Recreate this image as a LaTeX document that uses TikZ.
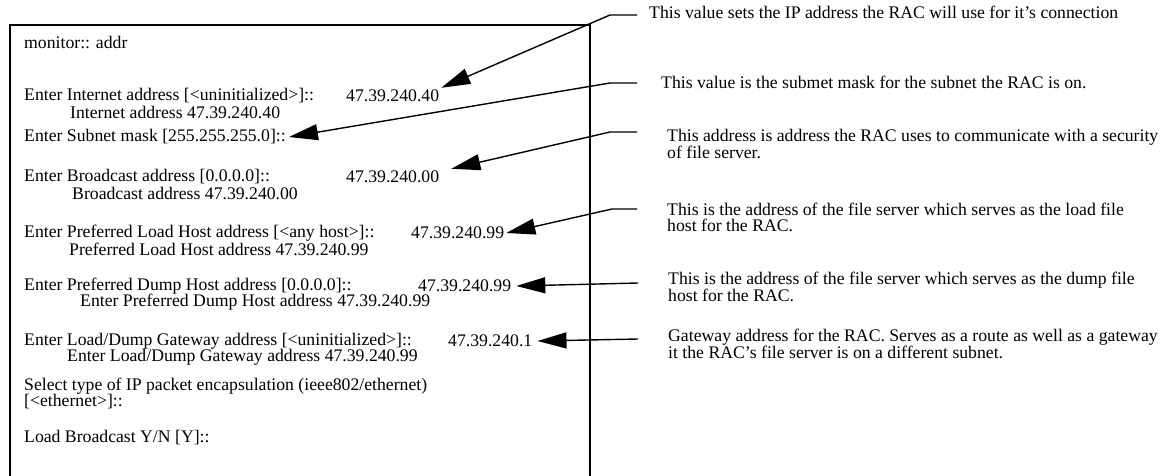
\documentclass[tikz,border=0pt]{standalone}
\usepackage{fontspec}
\setmainfont{Liberation Serif}
\usetikzlibrary{arrows.meta}

\tikzset{
  cmd/.style={anchor=west, inner sep=0pt, font=\fontsize{17.7}{16}\selectfont},
  val/.style={anchor=west, inner sep=2pt, font=\fontsize{17.7}{16}\selectfont},
  note/.style={anchor=north west, inner sep=0pt, align=left, font=\fontsize{17.7}{15.5}\selectfont},
  callout/.style={line width=1.4pt, -{Triangle[length=29pt, width=16pt]}},
}

\begin{document}
\begin{tikzpicture}[x=1pt, y=-1pt]
\useasboundingbox (0,0) rectangle (1169,476);
\draw[line width=1.8pt] (10,480) -- (10,25) -- (590,25) -- (590,480);

% monitor session
\node[cmd] (mon) at (24,42) {monitor:: addr};
\node[cmd] (inet) at (24,96) {Enter Internet address [<uninitialized>]::};
\node[val] (v1) at (344,96) {47.39.240.40};
\node[cmd] (inet2) at (70,112) {Internet address 47.39.240.40};
\node[cmd] (mask) at (24,137) {Enter Subnet mask [255.255.255.0]::};
\node[cmd] (bcast) at (24,177) {Enter Broadcast address [0.0.0.0]::};
\node[val] (v3) at (344,177) {47.39.240.00};
\node[cmd] (bcast2) at (72,193) {Broadcast address 47.39.240.00};
\node[cmd] (load) at (24,233) {Enter Preferred Load Host address [<any host>]::};
\node[val] (v4) at (409,233) {47.39.240.99};
\node[cmd] (load2) at (69,249) {Preferred Load Host address 47.39.240.99};
\node[cmd] (dump) at (24,286) {Enter Preferred Dump Host address [0.0.0.0]::};
\node[val] (v5) at (416,286) {47.39.240.99};
\node[cmd] (dump2) at (80,302) {Enter Preferred Dump Host address 47.39.240.99};
\node[cmd] (gw) at (24,341) {Enter Load/Dump Gateway address [<uninitialized>]::};
\node[val] (v6) at (446,341) {47.39.240.1};
\node[cmd] (gw2) at (67,357) {Enter Load/Dump Gateway address 47.39.240.99};
\node[cmd] (encap) at (24,386) {Select type of IP packet encapsulation (ieee802/ethernet)};
\node[cmd] (encap2) at (24,402) {[<ethernet>]::};
\node[cmd] (lbc) at (24,438) {Load Broadcast Y/N [Y]::};

% explanations
\node[note] (n1) at (649,6) {This value sets the IP address the RAC will use for it's connection};
\node[note] (n2) at (661,76) {This value is the submet mask for the subnet the RAC is on.};
\node[note] (n3) at (667,129) {This address is address the RAC uses to communicate with a security\\of file server.};
\node[note] (n4) at (667,203) {This is the address of the file server which serves as the load file\\host for the RAC.};
\node[note] (n5) at (668,272) {This is the address of the file server which serves as the dump file\\host for the RAC.};
\node[note] (n6) at (668,329) {Gateway address for the RAC. Serves as a route as well as a gateway\\it the RAC's file server is on a different subnet.};

\coordinate (k1) at (637,15);
\coordinate (k2) at (637,83);
\coordinate (k3) at (637,132);
\coordinate (k4) at (637,209);
\coordinate (k5) at (638,283);
\coordinate (k6) at (638,339);

\draw[callout] (k1) -- ++(-27,0) -- (v1.north east);
\draw[callout] (k2) -- ++(-27,0) -- ([xshift=3pt]mask.east);
\draw[callout] (k3) -- ++(-27,0) -- ([xshift=10pt]v3.north east);
\draw[callout] (k4) -- ++(-25,0) -- (v4.east);
\draw[callout] (k5) -- ([xshift=3pt]v5.east);
\draw[callout] (k6) -- ([xshift=3pt]v6.east);

\end{tikzpicture}
\end{document}
